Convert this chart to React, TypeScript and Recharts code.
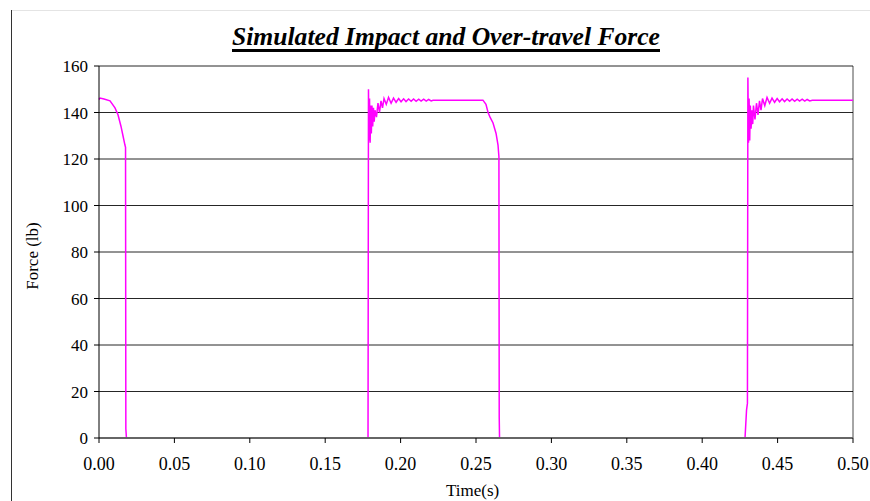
import { LineChart, Line, XAxis, YAxis, CartesianGrid, ReferenceLine } from 'recharts';

// time (s) / force (lb) pairs
const firstRelease: [number, number][] = [
  [0.0, 145.6], [0.0007, 146.2], [0.0033, 145.8], [0.0073, 145], [0.0106, 142],
  [0.0126, 139], [0.0146, 134], [0.0159, 130], [0.0172, 126], [0.0176, 125],
  [0.0178, 4], [0.0182, 0],
];

const secondImpact: [number, number][] = [
  [0.1784, 0], [0.1787, 150], [0.179, 128], [0.1794, 146], [0.1798, 127],
  [0.1802, 143], [0.1806, 131], [0.181, 143], [0.1815, 134], [0.182, 142],
  [0.1825, 136], [0.183, 141], [0.184, 138], [0.185, 144], [0.186, 140],
  [0.187, 145], [0.188, 142], [0.189, 146], [0.1905, 143.5], [0.192, 146.5],
  [0.1937, 144], [0.1953, 146.2], [0.197, 144.4], [0.1987, 146], [0.2003, 144.6],
  [0.202, 145.9], [0.2036, 144.7], [0.2053, 145.8], [0.207, 144.8], [0.2086, 145.8],
  [0.2103, 144.8], [0.212, 145.7], [0.2136, 144.9], [0.2153, 145.7], [0.217, 144.9],
  [0.2186, 145.6], [0.2203, 145], [0.2215, 145.3],
];

const secondRelease: [number, number][] = [
  [0.2546, 145.3], [0.2566, 143.5], [0.258, 140], [0.2593, 138], [0.2613, 135.5],
  [0.2633, 131], [0.2646, 126], [0.2652, 121], [0.2654, 9], [0.2656, 0],
];

const thirdImpact: [number, number][] = [
  [0.4284, 0], [0.4294, 12], [0.43, 15], [0.4303, 155], [0.4307, 127],
  [0.4311, 146], [0.4315, 128], [0.4319, 143], [0.4324, 133], [0.433, 141],
  [0.4335, 135], [0.434, 143], [0.435, 137], [0.436, 144], [0.437, 139],
  [0.438, 145], [0.439, 141], [0.44, 146], [0.4415, 143], [0.443, 146.5],
  [0.4447, 144], [0.4463, 146.2], [0.448, 144.4], [0.4497, 146], [0.4513, 144.6],
  [0.453, 145.9], [0.4546, 144.7], [0.4563, 145.8], [0.458, 144.8], [0.4596, 145.8],
  [0.4613, 144.8], [0.463, 145.7], [0.4646, 144.9], [0.4663, 145.7], [0.468, 144.9],
  [0.4696, 145.6], [0.4713, 145], [0.473, 145.3], [0.5, 145.3],
];

const yTicks = [0, 20, 40, 60, 80, 100, 120, 140, 160];
const xTicks = [0, 0.05, 0.1, 0.15, 0.2, 0.25, 0.3, 0.35, 0.4, 0.45, 0.5];

const data = [...firstRelease, ...secondImpact, ...secondRelease, ...thirdImpact].map(
  ([t, f]) => ({ t, f })
);

const font = '"Liberation Serif", "Times New Roman", serif';

export default function App() {
  return (
    <div style={{ position: 'absolute', left: 0, top: 0, width: 870, height: 501, background: '#fff', fontFamily: font }}>
      {/* page edges from the source document */}
      <div style={{ position: 'absolute', left: 12, top: 10, width: 858, height: 1, background: '#e4e4e4' }} />
      <div style={{ position: 'absolute', left: 11, top: 10, width: 1, height: 491, background: '#333' }} />

      <div
        style={{
          position: 'absolute', left: 0, width: 892, top: 22, textAlign: 'center',
          fontSize: 25.6, fontWeight: 'bold', fontStyle: 'italic', color: '#000', fontFamily: font,
        }}
      >
        <span style={{ borderBottom: '3px solid #000', lineHeight: '24px', display: 'inline-block' }}>
          Simulated Impact and Over-travel Force
        </span>
      </div>

      <LineChart width={870} height={501} data={data} margin={{ top: 66, right: 17, bottom: 0, left: 0 }}>
        <CartesianGrid horizontal vertical={false} stroke="#000" strokeOpacity={0.85} />
        <XAxis
          dataKey="t"
          type="number"
          domain={[0, 0.5]}
          ticks={xTicks}
          tickFormatter={(v: number) => v.toFixed(2)}
          tick={{ fill: '#000', fontSize: 18, fontFamily: font }}
          tickSize={5}
          tickMargin={14}
          axisLine={{ stroke: '#666', strokeWidth: 2 }}
          tickLine={{ stroke: '#000' }}
          height={63}
        />
        <YAxis
          type="number"
          domain={[0, 160]}
          ticks={yTicks}
          tick={{ fill: '#000', fontSize: 17, fontFamily: font }}
          tickSize={5}
          tickMargin={6}
          axisLine={{ stroke: '#000' }}
          tickLine={{ stroke: '#000' }}
          width={99}
        />
        <ReferenceLine x={0.5} stroke="#000" strokeOpacity={0.7} />
        <Line
          dataKey="f"
          type="linear"
          stroke="#ff00ff"
          strokeWidth={1.5}
          dot={false}
          isAnimationActive={false}
        />
      </LineChart>

      <div style={{ position: 'absolute', left: 446, top: 481, fontSize: 17, color: '#000' }}>Time(s)</div>
      <div
        style={{
          position: 'absolute', left: 33, top: 256, fontSize: 17, color: '#000',
          transform: 'translate(-50%, -50%) rotate(-90deg)', whiteSpace: 'nowrap',
        }}
      >
        Force (lb)
      </div>
    </div>
  );
}
